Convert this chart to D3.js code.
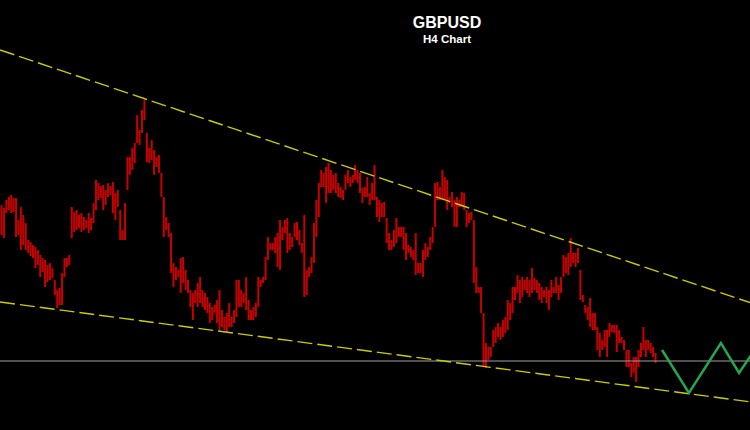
<!DOCTYPE html>
<html>
<head>
<meta charset="utf-8">
<script src="https://cdn.jsdelivr.net/npm/d3@7"></script>
<style>
  html, body { margin: 0; padding: 0; background: #000; }
  #chart { width: 750px; height: 430px; }
</style>
</head>
<body>
<div id="chart"></div>
<script>
// price levels (chart units) per H4 bar, oldest first
const highs = [
    225,222,230,233,235,232,232,210,223,215,
    207,190,188,185,183,180,175,172,170,165,
    167,162,150,140,142,157,172,172,175,223,
    218,220,215,217,213,210,217,212,227,250,
    247,244,245,240,247,244,248,237,240,220,
    200,227,273,273,282,287,315,300,320,330,
    297,282,290,280,273,275,257,233,213,207,
    197,167,163,160,172,173,160,150,140,137,
    140,147,153,140,137,133,127,123,125,130,
    140,120,113,117,127,113,120,150,150,140,
    137,153,130,120,123,127,153,150,153,173,
    193,187,187,193,197,210,203,210,212,197,
    193,207,208,200,187,215,160,163,173,207,
    230,247,260,257,263,267,260,255,257,247,
    243,240,255,260,253,255,265,260,257,242,
    243,253,237,247,265,233,230,227,228,212,
    197,190,200,212,203,203,203,197,185,183,
    180,197,167,167,180,187,183,193,203,247,
    248,243,260,253,250,233,238,230,233,230,
    238,237,220,217,218,210,163,143,143,117,
    87,83,83,100,103,107,103,110,113,130,
    127,143,143,155,150,153,150,153,150,162,
    152,150,147,143,140,143,140,150,143,153,
    145,153,175,173,177,192,177,177,182,160,
    135,125,123,132,117,117,103,97,90,100,
    100,107,105,105,105,100,93,90,80,80,
    67,73,73,80,87,103,90,90,87,83,
    77
];
const lows = [
    195,192,217,220,217,218,193,195,180,185,
    180,177,174,172,162,165,153,158,143,148,
    150,152,135,122,125,125,153,163,165,192,
    198,200,202,198,200,202,197,200,207,220,
    230,232,220,225,233,235,217,210,223,190,
    190,190,240,255,260,267,287,285,297,310,
    268,267,270,255,263,257,233,193,200,193,
    157,143,150,153,137,147,140,137,123,110,
    127,123,127,123,120,117,107,110,117,107,
    100,103,100,98,103,103,107,113,123,123,
    127,120,110,110,110,113,123,143,147,150,
    170,180,180,177,163,160,190,197,177,180,
    183,193,190,185,177,133,135,153,157,167,
    193,213,243,243,227,237,237,240,237,233,
    232,230,240,247,243,247,250,247,237,227,
    233,233,225,230,230,213,208,213,213,187,
    180,180,183,187,193,193,180,170,177,173,
    170,155,157,157,153,170,173,180,187,203,
    230,230,230,230,220,227,223,203,203,223,
    223,220,203,207,210,147,137,137,117,63,
    62,70,73,83,87,93,90,93,97,100,
    110,117,130,137,127,133,140,137,133,137,
    140,137,130,127,133,127,120,133,137,137,
    130,137,153,157,155,163,167,163,167,130,
    128,117,110,103,100,100,80,73,80,83,
    73,93,98,97,78,87,87,80,63,63,
    53,57,48,63,73,80,73,80,77,73,
    67
];

// trend lines as [bar index, level] end points
const upperTrend = [[-0.6, 380], [309.5, 127]];
const lowerTrend = [[-0.6, 128], [309.5, 28]];
const supportLevel = 69;

// projected path
const projIndex = [272.7, 283.8, 297.0, 304.5, 309.5];
const projLevel = [80, 37, 87, 57, 75];

const title = "GBPUSD";
const subtitle = "H4 Chart";

function chart() {
    const width = 750,
        height = 430;

    const svg = d3.select("#chart").append("svg")
        .attr("width", width)
        .attr("height", height)
        .style("background", "#000");

    const x = d3.scaleLinear()
        .domain([0, highs.length - 1])
        .range([1.5, 655.5]);

    const y = d3.scaleLinear()
        .domain([0, 430])
        .range([height, 0]);

    const bars = highs.map((h, i) => ({i: i, high: h, low: lows[i]}));

    // bars
    svg.append("g")
        .attr("stroke", "#c80000")
        .attr("stroke-width", 2)
        .selectAll("line")
        .data(bars)
        .join("line")
        .attr("x1", d => x(d.i))
        .attr("x2", d => x(d.i))
        .attr("y1", d => y(d.high))
        .attr("y2", d => y(d.low));

    // support line
    svg.append("line")
        .attr("x1", x(-1))
        .attr("x2", x(310))
        .attr("y1", y(supportLevel))
        .attr("y2", y(supportLevel))
        .attr("stroke", "#a0a0a0")
        .attr("stroke-width", 1.2);

    const line = d3.line()
        .x(d => x(d[0]))
        .y(d => y(d[1]));

    svg.append("g")
        .attr("fill", "none")
        .attr("stroke", "#caca10")
        .attr("stroke-width", 1.4)
        .attr("stroke-dasharray", "15,5")
        .selectAll("path")
        .data([upperTrend, lowerTrend])
        .join("path")
        .attr("d", line);

    svg.append("path")
        .datum(projIndex.map((v, i) => [v, projLevel[i]]))
        .attr("fill", "none")
        .attr("stroke", "#27a650")
        .attr("stroke-width", 2.5)
        .attr("stroke-linejoin", "miter")
        .attr("d", line);

    svg.append("text")
        .attr("x", 447)
        .attr("y", 28)
        .attr("text-anchor", "middle")
        .attr("fill", "#fff")
        .style("font", "bold 16px 'Liberation Sans', Arial, sans-serif")
        .text(title);

    svg.append("text")
        .attr("x", 447)
        .attr("y", 43)
        .attr("text-anchor", "middle")
        .attr("fill", "#fff")
        .style("font", "bold 11.5px 'Liberation Sans', Arial, sans-serif")
        .text(subtitle);
}

window.onload = function() {
    chart();
};
</script>
</body>
</html>
